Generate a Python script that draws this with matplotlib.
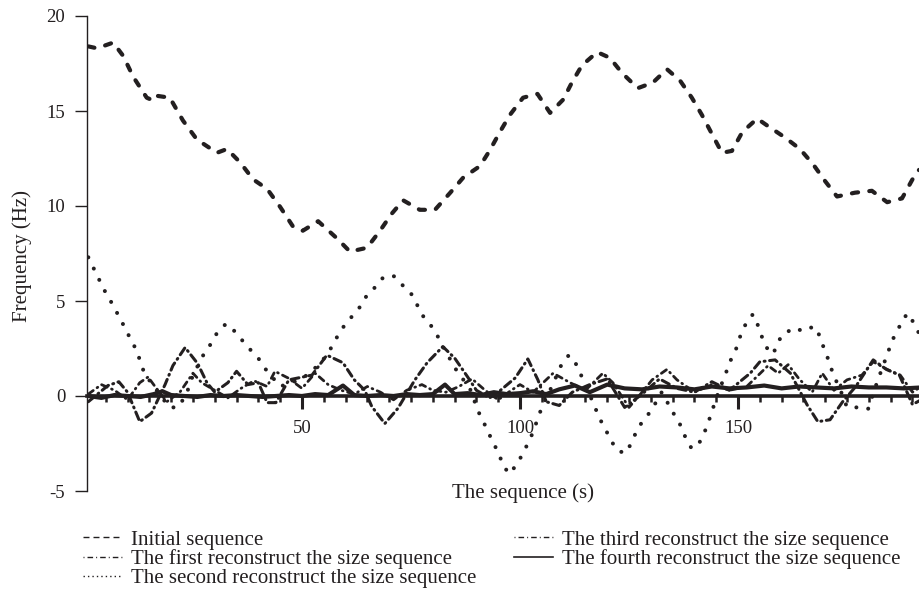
import matplotlib
matplotlib.use('Agg')
import matplotlib.pyplot as plt
from matplotlib.lines import Line2D
from matplotlib.ticker import MultipleLocator, FixedLocator

plt.rcParams['font.family'] = ['Liberation Serif', 'DejaVu Serif']
plt.rcParams['axes.unicode_minus'] = False

INK = '#231f20'

# --- values ---
x_init = [1, 3, 6.7, 9, 11.3, 14.4, 15.9, 16.7, 19.7, 22.7, 25.9, 30.5, 32.8, 35.8, 38.8, 42, 45, 48,
          50.2, 53.7, 58, 61, 64.9, 67.9, 70.6, 73.2, 77, 80.5, 84, 87, 90.8, 93, 95.4, 97.7, 100.7,
          104, 106.9, 109.9, 111.9, 114.2, 117.7, 120.6, 123.4, 127, 130.5, 133.7, 136.7, 139.4,
          141.7, 144, 146.3, 148.6, 151, 154.4, 156.9, 160.8, 164.2, 167.2, 170, 172.7, 176.8,
          180.7, 184.2, 187.6, 190, 191.5]
y_init = [18.4, 18.3, 18.6, 17.9, 16.8, 15.7, 15.55, 15.8, 15.7, 14.5, 13.5, 12.8, 13.0, 12.3, 11.4,
          10.9, 9.95, 8.9, 8.7, 9.2, 8.3, 7.6, 7.8, 8.7, 9.6, 10.3, 9.8, 9.8, 10.7, 11.5, 12.1, 12.9,
          13.9, 14.8, 15.7, 15.9, 14.9, 15.6, 16.5, 17.4, 18.1, 17.8, 17.0, 16.2, 16.5, 17.2, 16.6,
          15.7, 14.8, 13.8, 12.8, 12.9, 13.9, 14.6, 14.2, 13.6, 13.0, 12.2, 11.3, 10.5, 10.7, 10.8,
          10.2, 10.4, 11.4, 11.9]

x_first = [1, 5.5, 8, 10, 12.8, 15.5, 18.6, 20.4, 23.2, 26.1, 28.2, 30, 33, 35, 37.6, 40, 42, 44,
           47, 52.3, 55.7, 59.4, 62, 64.4, 66, 69, 72, 75.9, 78.7, 82.3, 85, 88, 90, 93, 95, 98.9,
           101.8, 104.1, 106, 109, 112, 116, 120, 124, 128, 132, 136, 140, 144, 148, 152.8, 155,
           158.5, 162, 165.8, 168.3, 171.1, 174, 177, 181, 184, 187, 190, 192]
y_first = [-0.3, 0.55, 0.75, 0.2, -1.35, -0.9, 0.6, 1.6, 2.55, 1.7, 0.7, 0.2, 0.7, 1.3, 0.6, 0.7,
           -0.35, -0.35, 0.85, 1.1, 2.15, 1.75, 0.85, 0.3, -0.55, -1.45, -0.65, 0.85, 1.75, 2.6,
           2.0, 1.0, 0.3, -0.1, 0.2, 0.95, 1.95, 0.85, -0.3, -0.5, 0.2, 0.6, 0.9, -0.6, 0.1, 0.9,
           0.4, 0.2, 0.75, 0.3, 1.2, 1.8, 1.9, 1.2, -0.45, -1.35, -1.25, -0.3, 0.5, 1.9, 1.4, 1.1,
           -0.45, -0.2]

x_second = [1, 4.6, 6, 7.3, 8.7, 10, 11.2, 12.4, 13.3, 14.6, 17, 19.6, 21.6, 23.5, 25, 27.7, 29.3,
            30.7, 32.6, 34.6, 36.4, 38.3, 40.1, 41.7, 45, 49.5, 51.8, 54, 55.7, 57.1, 58.5, 60,
            61.9, 63.7, 65.1, 67.2, 68.8, 71.1, 73.2, 75, 76.4, 77.8, 79.6, 81, 82.3, 83.7, 85,
            86.7, 88.5, 90.4, 91.7, 92.9, 94, 95.2, 96.3, 97.5, 99.3, 100.7, 101.8, 103, 103.9,
            105, 107.3, 109.6, 111.2, 112.8, 115, 117.2, 118.3, 119.7, 121, 122.5, 124.3, 125.7,
            126.8, 128.2, 130, 132.5, 135.3, 136.7, 137.8, 139.2, 140.6, 141.7, 142.9, 143.8,
            145.2, 146.6, 147.7, 148.6, 149.8, 150.7, 151.8, 153.4, 154.6, 155.5, 156.7, 158, 160,
            163, 164.9, 166.7, 168, 168.9, 169.9, 170.9, 171.8, 173.5, 175, 178.2, 179.8, 182,
            184.4, 185.3, 186.7, 187.8, 189, 190.4, 191.5]
y_second = [7.3, 5.6, 5.05, 4.5, 3.9, 3.3, 2.8, 2.2, 1.5, 0.95, 0.2, -0.6, -0.6, 0.1, 1.1, 2.3, 2.8,
            3.4, 3.8, 3.4, 2.9, 2.4, 1.95, 1.4, 0.5, 0.85, 1.2, 1.7, 2.15, 2.7, 3.3, 3.8, 4.3, 4.8,
            5.4, 5.8, 6.3, 6.3, 5.8, 5.4, 4.8, 4.2, 3.7, 3.2, 2.6, 2.05, 1.5, 0.95, 0.4, -0.8,
            -1.4, -2.0, -2.5, -3.1, -3.7, -4.1, -3.6, -3.0, -2.5, -1.9, -1.3, -0.6, 0.5, 1.7,
            2.15, 1.7, 0.6, -0.6, -1.2, -1.8, -2.4, -2.9, -3.0, -2.4, -1.8, -1.3, -0.8, 0.2,
            -0.95, -1.5, -2.1, -2.7, -2.7, -2.2, -1.6, -0.95, 0.0, 0.85, 1.5, 2.05, 2.6, 3.3, 3.8,
            4.3, 3.7, 3.1, 2.5, 2.2, 3.2, 3.6, 3.4, 3.6, 3.6, 3.0, 2.4, 1.8, 1.15, 0.3, -0.6, -0.6,
            -0.7, 0.8, 2.3, 2.9, 3.5, 4.05, 4.35, 3.8, 3.3]

x_third = [1, 4, 7, 10, 12.8, 14.7, 16.3, 19, 22, 25, 27, 30, 33, 36, 39, 42, 43.8, 46.8, 50, 53,
           56, 59, 62, 65, 68, 71, 74, 77.5, 80, 83, 86, 89, 92, 95, 98, 100, 103, 107.6, 111.5,
           115, 119, 121.3, 125, 128, 130.3, 133.7, 136, 140, 144, 148, 152, 156.9, 159.2, 161.5,
           164, 167, 169.3, 172, 175, 178.4, 181, 184.2, 187.2, 190, 192]
y_third = [0.1, 0.6, 0.3, -0.2, 0.7, 1.0, 0.5, -0.3, 0.2, 1.2, 0.7, 0.3, -0.1, 0.4, 0.8, 0.5, 1.3,
           0.95, 0.4, 1.2, 0.6, 0.3, 0.1, 0.5, 0.2, -0.2, 0.3, 0.6, 0.3, 0.2, 0.5, 0.9, 0.3, -0.2,
           0.3, 0.6, 0.2, 1.2, 0.7, 0.3, 1.2, 0.7, -0.6, 0.2, 0.85, 1.4, 0.85, 0.2, 0.6, 0.3, 0.5,
           1.6, 1.2, 1.65, 0.9, 0.2, 1.2, 0.3, 0.85, 1.1, 1.8, 1.4, 1.1, 0.2, 0.5]

x_fourth = [1, 4, 7, 10, 13, 16, 18, 20, 23, 26, 29, 32, 35, 38, 41, 44, 47, 50, 53, 56, 59.4, 62,
            65, 68, 71, 74, 77, 80, 82.8, 85, 88, 91, 94, 97, 100, 103, 106, 109, 112.6, 116, 120,
            124, 128, 132, 136, 140, 144, 148, 152, 156, 160, 164, 168, 172, 176, 180, 184, 188, 192]
y_fourth = [0, -0.1, 0.05, 0, -0.05, 0.1, 0.25, 0.05, 0, -0.05, 0.05, 0, 0.05, 0, -0.05, 0, 0.05, 0,
            0.1, 0.05, 0.55, 0.05, 0, 0.05, 0, 0.1, 0.05, 0.1, 0.6, 0.1, 0.15, 0.05, 0.2, 0.1, 0.15,
            0.25, 0.1, 0.35, 0.55, 0.2, 0.6, 0.4, 0.35, 0.5, 0.45, 0.35, 0.5, 0.4, 0.45, 0.55, 0.4,
            0.5, 0.45, 0.4, 0.5, 0.45, 0.45, 0.4, 0.45]

labels = ['Initial sequence',
          'The first reconstruct the size sequence',
          'The second reconstruct the size sequence',
          'The third reconstruct the size sequence',
          'The fourth reconstruct the size sequence']

fig = plt.figure(figsize=(9.19, 6.08), dpi=100)
ax = fig.add_axes([87/919, 1-491/608, 832/919, 475/608])
ax.set_xlim(0.7, 191.5)
ax.set_ylim(-5, 20)

ax.plot(x_init, y_init, color=INK, lw=3.0, ls=(0, (1.5, 2.7)), dash_capstyle='round')
ax.plot(x_first, y_first, color=INK, lw=2.2, ls=(0, (2.6, 1.5, 0.3, 1.5)), dash_capstyle='round')
ax.plot(x_second, y_second, color=INK, lw=2.9, ls=(0, (0.01, 3.1)), dash_capstyle='round')
ax.plot(x_third, y_third, color=INK, lw=2.0, ls=(0, (2.2, 1.7, 0.3, 1.7)), dash_capstyle='round')
ax.plot(x_fourth, y_fourth, color=INK, lw=3, solid_capstyle='round')

for s in ('top', 'right'):
    ax.spines[s].set_visible(False)
ax.spines['left'].set_color(INK)
ax.spines['left'].set_linewidth(1)
ax.spines['left'].set_bounds(-5, 20)
ax.spines['bottom'].set_position(('data', 0))
ax.spines['bottom'].set_color(INK)
ax.spines['bottom'].set_linewidth(2.6)

ax.yaxis.set_major_locator(MultipleLocator(5))
ax.tick_params(axis='y', direction='out', length=8.6, width=1, pad=7, labelsize=13.5,
               colors=INK)
ax.xaxis.set_major_locator(FixedLocator([50, 100, 150]))
ax.xaxis.set_minor_locator(MultipleLocator(5))
ax.tick_params(axis='x', which='major', direction='out', length=9, width=2.2, pad=8.5,
               labelsize=13.5, colors=INK)
ax.tick_params(axis='x', which='minor', direction='out', length=4, width=1.8, colors=INK)

ax.text(0.524, -0.004, 'The sequence (s)', transform=ax.transAxes, ha='center', va='center',
        fontsize=15, color=INK)
fig.text(22/919, 1-256/608, 'Frequency (Hz)', rotation=90, ha='center', va='center',
         fontsize=15, color=INK)

handles = [Line2D([], [], color=INK, lw=1, ls=(0, (4.3, 2.9))),
           Line2D([], [], color=INK, lw=1, ls=(0, (0.7, 2.2, 4, 2.2))),
           Line2D([], [], color=INK, lw=1, ls=(0, (1, 2.2))),
           Line2D([], [], color=INK, lw=1, ls=(0, (0.7, 2.2, 4, 2.2))),
           Line2D([], [], color=INK, lw=1.2)]
leg = fig.legend(handles, labels, ncol=2, loc='upper left', bbox_to_anchor=(83/919, 1-530/608),
                 frameon=False, fontsize=15, handlelength=1.9, handletextpad=0.4,
                 columnspacing=1.8, labelspacing=-0.03, borderpad=0, borderaxespad=0)
for t in leg.get_texts():
    t.set_color(INK)

fig.savefig('out.png', dpi=100)
